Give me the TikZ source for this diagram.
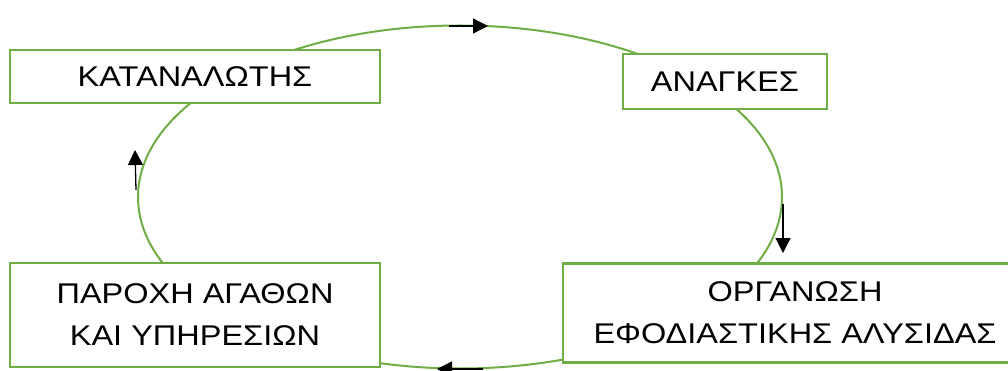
\documentclass[tikz,border=0pt]{standalone}
\usepackage{fontspec}
\setmainfont{Liberation Sans}[FakeStretch=1.14]
\usetikzlibrary{arrows.meta}
\definecolor{cyclegreen}{RGB}{112,173,71}

\begin{document}
\begin{tikzpicture}[x=1pt,y=-1pt,
    stagebox/.style={draw=cyclegreen, line width=2.2pt, fill=white, align=center,
        inner sep=0pt, font=\fontsize{28.5}{42}\selectfont},
    flow/.style={black, line width=1.3pt, -{Triangle[length=15pt,width=15pt]}}]
    \useasboundingbox (0,0) rectangle (1008,371);

    % the cycle itself
    \draw[cyclegreen, line width=2pt] (460,197) ellipse (322pt and 171.5pt);

    % stages on the cycle
    \node[stagebox, minimum width=370, minimum height=53] (consumer) at (195,76.5) {ΚΑΤΑΝΑΛΩΤΗΣ};
    \node[stagebox, minimum width=204, minimum height=55] (needs) at (725,81.5) {ΑΝΑΓΚΕΣ};
    \node[stagebox, minimum width=464, minimum height=99] (supply) at (795,313) {ΟΡΓΑΝΩΣΗ\\ΕΦΟΔΙΑΣΤΙΚΗΣ ΑΛΥΣΙΔΑΣ};
    \node[stagebox, minimum width=370, minimum height=104] (goods) at (195,315) {ΠΑΡΟΧΗ ΑΓΑΘΩΝ\\ΚΑΙ ΥΠΗΡΕΣΙΩΝ};

    % direction marks
    \coordinate (topA) at (449,26);   \coordinate (topB) at (488,26);
    \coordinate (rightA) at (783,204); \coordinate (rightB) at (783,253);
    \coordinate (botA) at (483,369);  \coordinate (botB) at (437,369);
    \coordinate (leftA) at (136,190); \coordinate (leftB) at (135,150);
    \draw[flow] (topA) -- (topB);
    \draw[flow] (rightA) -- (rightB);
    \draw[flow] (botA) -- (botB);
    \draw[flow] (leftA) -- (leftB);
\end{tikzpicture}
\end{document}
